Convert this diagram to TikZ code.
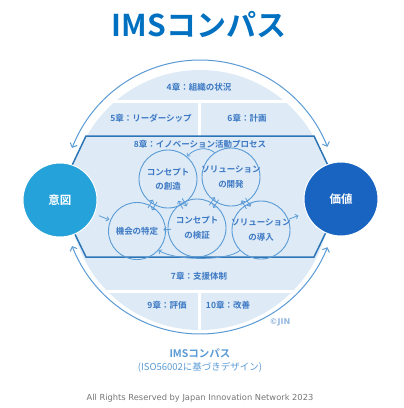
\documentclass[tikz,border=0pt]{standalone}
\usepackage{fontspec}
\setmainfont{Noto Sans CJK JP}[BoldFont={Noto Sans CJK JP Bold}]
\newfontfamily\latinfont{DejaVu Sans}
\usetikzlibrary{arrows.meta,calc}
\definecolor{lfill}{RGB}{222,235,247}
\definecolor{btext}{RGB}{60,120,195}
\definecolor{cline}{RGB}{91,155,213}
\definecolor{hexb}{RGB}{46,117,182}
\definecolor{itoc}{RGB}{38,162,218}
\definecolor{kachic}{RGB}{24,100,192}
\definecolor{titlec}{RGB}{0,112,192}
\definecolor{greyc}{RGB}{118,118,118}
\definecolor{jinc}{RGB}{150,185,225}
\newcommand\twoway[2]{%
  \draw[tip] ($(#1)!0.42!(#2)!2.3pt!90:(#2)$) -- ($(#1)!0.58!(#2)!2.3pt!90:(#2)$);
  \draw[tip] ($(#1)!0.58!(#2)!2.3pt!-90:(#2)$) -- ($(#1)!0.42!(#2)!2.3pt!-90:(#2)$);
}
\begin{document}
\begin{tikzpicture}[x=1pt,y=-1pt,
  bandtext/.style={font=\bfseries\fontsize{8.5}{10}\selectfont, text=btext, inner sep=0pt},
  proc/.style={circle, draw=cline, line width=0.9pt, minimum size=58pt, inner sep=0pt},
  proctext/.style={font=\bfseries\fontsize{8.5}{14.5}\selectfont, text=btext, align=center, inner sep=0pt},
  bigc/.style={circle, minimum size=74pt, inner sep=0pt, draw=white, line width=1pt, text=white, font=\bfseries\fontsize{11.5}{13}\selectfont},
  tip/.style={-{Straight Barb[length=2.2pt,width=4.6pt]}, draw=cline, line width=0.8pt},
  outerarc/.style={{Straight Barb[length=3.5pt,width=7.5pt]}-{Straight Barb[length=3.5pt,width=7.5pt]}, draw=cline, line width=1pt}]
\useasboundingbox (0,0) rectangle (404,408);
\fill[white] (0,0) rectangle (404,408);
% outer arcs
\draw[outerarc] plot[domain=201:338.5, samples=80] ({200+137*cos(\x)},{197+137*sin(\x)});
\draw[outerarc] plot[domain=21.5:159, samples=80] ({200+137*cos(\x)},{197+137*sin(\x)});
% light circle with bands
\fill[lfill] (200,200) circle[radius=130];
\begin{scope}
  \clip (200,200) circle[radius=130];
  \draw[white, line width=3pt] (60,101) -- (340,101);
  \draw[white, line width=3pt] (60,291) -- (340,291);
  \draw[white, line width=3pt] (199,101) -- (199,136);
  \draw[white, line width=3pt] (199,291) -- (199,335);
\end{scope}
\node[bandtext] (b4) at (199,87) {4章：組織の状況};
\node[bandtext] (b5) at (151,118) {5章：リーダーシップ};
\node[bandtext] (b6) at (247,118) {6章：計画};
\node[bandtext] (b7) at (199,276) {7章：支援体制};
\node[bandtext] (b9) at (167,305) {9章：評価};
\node[bandtext] (b10) at (228,305) {10章：改善};
% hexagon
\filldraw[fill=lfill, draw=hexb, line width=1.5pt] (86,136) -- (314,136) -- (343,197) -- (314,257) -- (86,257) -- (57,197) -- cycle;
\node[bandtext] (b8) at (200,144) {8章：イノベーション活動プロセス};
% process circles
\node[proc, label={[proctext]center:{コンセプト\\の創造}}] (sozo) at (168,179) {};
\node[proc, label={[proctext]center:{ソリューション\\の開発}}] (kaihatsu) at (231,177) {};
\node[proc, minimum size=57pt, label={[proctext]center:{機会の特定}}] (kikai) at (137,231) {};
\node[proc, label={[proctext]center:{コンセプト\\の検証}}] (kensho) at (197,228) {};
\node[proc, label={[proctext]center:{ソリューション\\の導入}}] (donyu) at (261,230) {};
% big circles
\node[bigc, fill=itoc] (ito) at (60,200) {意図};
\node[bigc, fill=kachic] (kachi) at (341,199) {価値};
% inner arrows
\twoway{sozo}{kikai}
\twoway{sozo}{kensho}
\twoway{kaihatsu}{kensho}
\twoway{kaihatsu}{donyu}
\draw[tip] ($(kensho)!0.43!(kikai)$) -- ($(kensho)!0.56!(kikai)$);
\draw[tip] ($(kikai)!41pt!(ito)$) -- ($(kikai)!30pt!(ito)$);
\draw[tip] ($(donyu)!30pt!(kachi)$) -- ($(donyu)!40pt!(kachi)$);
\draw[tip] (kaihatsu.124) .. controls (208,147) and (196,147) .. (sozo.50);
\draw[tip] (donyu.224) .. controls (228,261) and (176,261) .. (kikai.318);
% texts
\node[font=\bfseries\fontsize{30}{34}\selectfont, text=titlec] (title) at (199,25) {IMSコンパス};
\node[font=\latinfont\bfseries\fontsize{8}{9}\selectfont, text=jinc] (jin) at (280,322) {©JIN};
\node[font=\bfseries\fontsize{10.5}{12}\selectfont, text=cline] (cap1) at (200,353) {IMSコンパス};
\node[font=\fontsize{9.5}{11}\selectfont, text=cline] (cap2) at (200,367) {(ISO56002に基づきデザイン)};
\node[font=\latinfont\fontsize{8.3}{9}\selectfont, text=greyc] (copy) at (200,398) {All Rights Reserved by Japan Innovation Network 2023};
\end{tikzpicture}
\end{document}
